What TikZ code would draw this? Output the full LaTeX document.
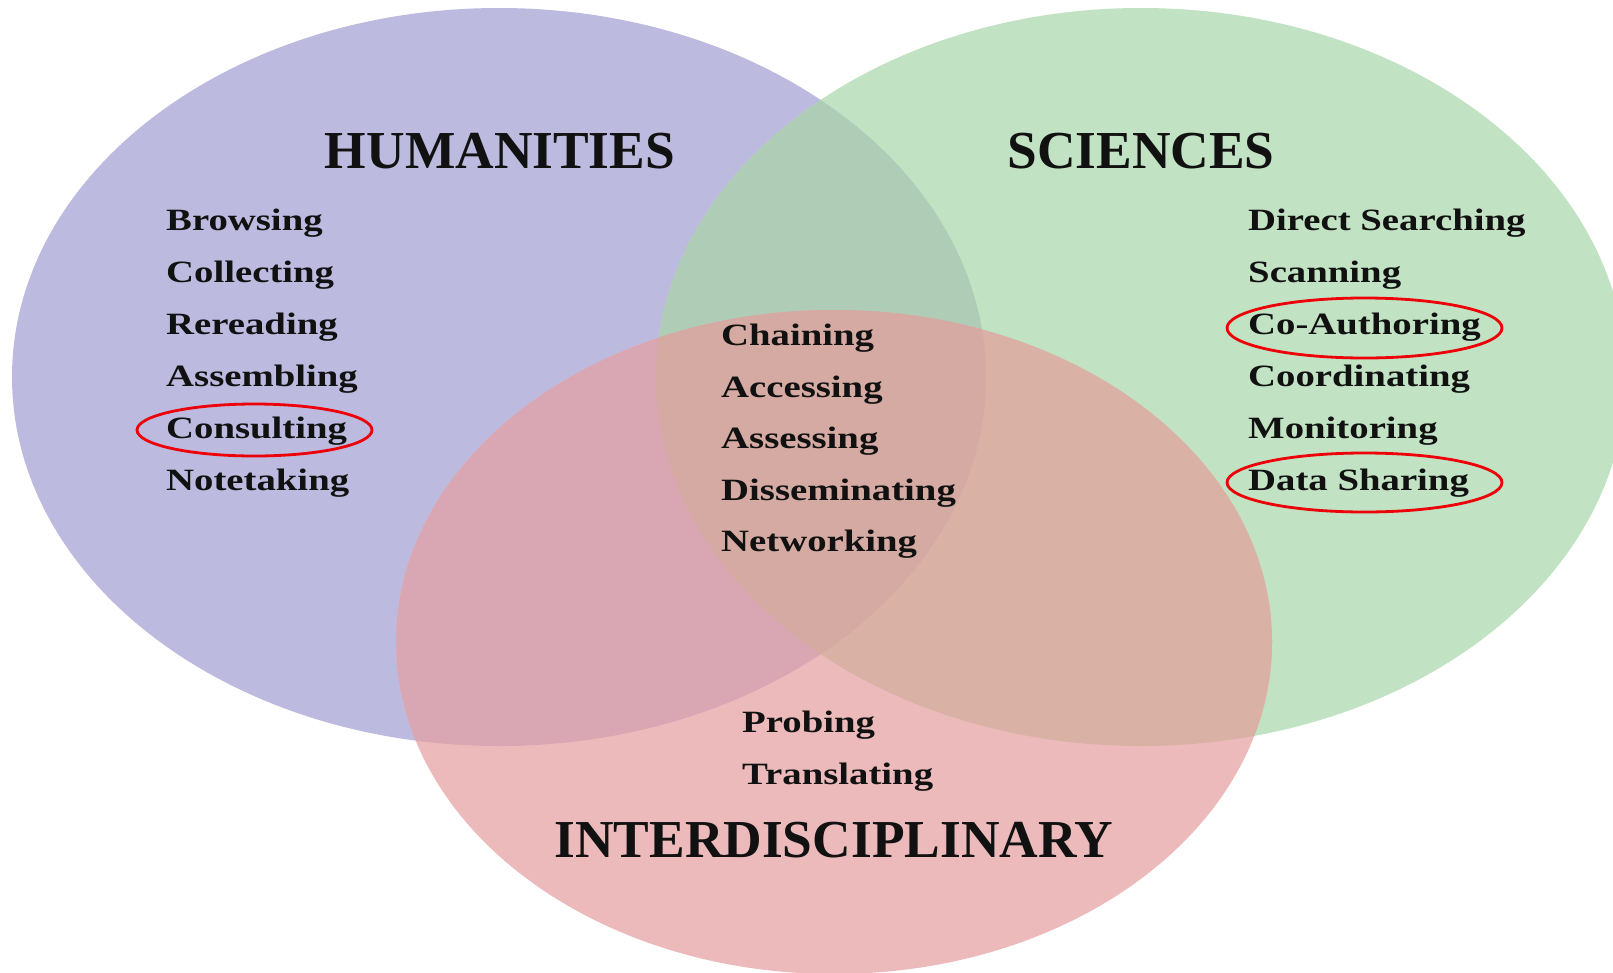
\documentclass[tikz,border=0pt]{standalone}
\usepackage{fontspec}
\setmainfont{Liberation Serif}
\newfontfamily\itemfont[FakeStretch=1.25]{Liberation Serif}
\definecolor{purpleC}{HTML}{BCBADF}
\definecolor{greenC}{HTML}{C1E2C3}
\definecolor{pinkC}{HTML}{ECBABB}
\definecolor{pgC}{HTML}{AFCDB6}
\definecolor{prC}{HTML}{D9A6B3}
\definecolor{grC}{HTML}{D9B1A5}
\definecolor{pgrC}{HTML}{D5AAA2}
\definecolor{ringC}{HTML}{EE0008}
\definecolor{txtC}{HTML}{111111}
\def\Pell{(499,377) ellipse [x radius=487pt, y radius=369pt]}
\def\Gell{(1141,377) ellipse [x radius=485pt, y radius=369pt]}
\def\Rell{(834,642) ellipse [x radius=438pt, y radius=332pt]}
\begin{document}
\begin{tikzpicture}[x=1pt,y=-1pt,
  item/.style={anchor=base west, inner sep=0pt, text=txtC,
    font=\itemfont\bfseries\fontsize{31}{31}\selectfont},
  title/.style={anchor=base, inner sep=0pt, text=txtC,
    font=\bfseries\fontsize{53.4}{53.4}\selectfont},
  ring/.style={draw=ringC, line width=2.8pt}]
\clip (0,0) rectangle (1613,972);
\fill[white] (0,0) rectangle (1613,972);
% circles
\fill[purpleC] \Pell;
\fill[greenC] \Gell;
\fill[pinkC] \Rell;
\begin{scope} \clip \Pell; \fill[pgC] \Gell; \end{scope}
\begin{scope} \clip \Pell; \fill[prC] \Rell; \end{scope}
\begin{scope} \clip \Gell; \fill[grC] \Rell; \end{scope}
\begin{scope} \clip \Pell; \clip \Gell; \fill[pgrC] \Rell; \end{scope}
% titles
\node[title] (hum) at (500,168) {HUMANITIES};
\node[title] (sci) at (1141,168) {SCIENCES};
\node[title] (inter) at (834,857) {INTERDISCIPLINARY};
% humanities items
\node[item] (browsing) at (166,230) {Browsing};
\node[item] (collecting) at (166,282) {Collecting};
\node[item] (rereading) at (166,334) {Rereading};
\node[item] (assembling) at (166,386) {Assembling};
\node[item] (consulting) at (166,438) {Consulting};
\node[item] (notetaking) at (166,490) {Notetaking};
% centre items
\node[item] (chaining) at (721,345) {Chaining};
\node[item] (accessing) at (721,397) {Accessing};
\node[item] (assessing) at (721,448) {Assessing};
\node[item] (disseminating) at (721,500) {Disseminating};
\node[item] (networking) at (721,551) {Networking};
\node[item] (probing) at (742,732) {Probing};
\node[item] (translating) at (742,784) {Translating};
% sciences items
\node[item] (direct) at (1248,230) {Direct Searching};
\node[item] (scanning) at (1248,282) {Scanning};
\node[item] (coauth) at (1248,334) {Co-Authoring};
\node[item] (coord) at (1248,386) {Coordinating};
\node[item] (monitoring) at (1248,438) {Monitoring};
\node[item] (datash) at (1248,490) {Data Sharing};
% red rings
\draw[ring] (254.5,430) ellipse [x radius=117.5pt, y radius=26pt];
\draw[ring] (1364.5,328) ellipse [x radius=137.5pt, y radius=30pt];
\draw[ring] (1364.5,482.5) ellipse [x radius=137.5pt, y radius=29.5pt];
\end{tikzpicture}
\end{document}
